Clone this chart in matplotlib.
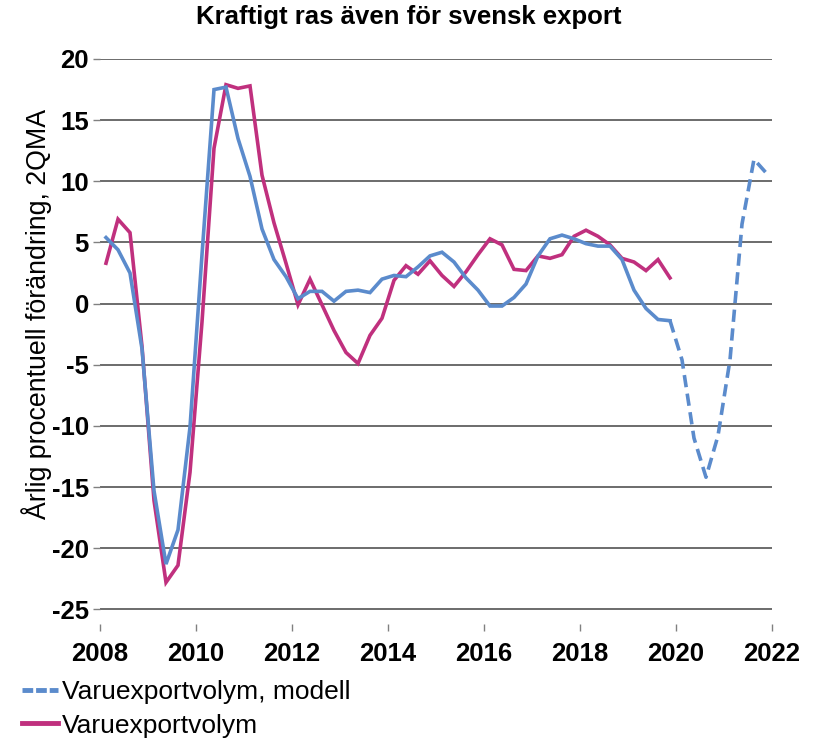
import numpy as np
import matplotlib
matplotlib.use("Agg")
import matplotlib.pyplot as plt
from matplotlib.lines import Line2D

plt.rcParams["font.family"] = ["Liberation Sans", "DejaVu Sans"]

# quarterly data, 2008Q1 onwards
start_year = 2008
model = [5.4, 4.4, 2.5, -3.7,
         -15.3, -21.3, -18.5, -10.1,
         4.0, 17.5, 17.7, 13.5,
         10.4, 6.1, 3.6, 2.2,
         0.4, 1.0, 1.0, 0.2,
         1.0, 1.1, 0.9, 2.0,
         2.3, 2.2, 3.0, 3.9,
         4.2, 3.4, 2.1, 1.1,
         -0.2, -0.2, 0.5, 1.6,
         3.9, 5.3, 5.6, 5.3,
         4.9, 4.7, 4.7, 3.6,
         1.1, -0.4, -1.3, -1.4,
         # forecast (dashed)
         -4.6, -11.0, -14.2, -10.8,
         -4.6, 6.5, 11.8, 10.7]
n_model_actual = 48

export = [3.3, 6.9, 5.8, -3.5,
          -16.1, -22.8, -21.4, -13.8,
          -1.5, 12.7, 17.9, 17.6,
          17.8, 10.5, 6.6, 3.3,
          -0.1, 2.0, -0.1, -2.2,
          -4.0, -4.9, -2.6, -1.2,
          1.9, 3.1, 2.4, 3.5,
          2.3, 1.4, 2.6, 4.0,
          5.3, 4.8, 2.8, 2.7,
          3.9, 3.7, 4.0, 5.5,
          6.0, 5.5, 4.8, 3.7,
          3.4, 2.7, 3.6, 2.1]

yticks = [20, 15, 10, 5, 0, -5, -10, -15, -20, -25]
xticks = [2008, 2010, 2012, 2014, 2016, 2018, 2020, 2022]

blue = "#5B8BCC"
pink = "#C0307E"

t_model = start_year + 0.125 + 0.25 * np.arange(len(model))
t_export = start_year + 0.125 + 0.25 * np.arange(len(export))

fig = plt.figure(figsize=(8.17, 7.38), dpi=100)
ax = fig.add_axes([100 / 817, 1 - 624 / 738, 672 / 817, 565 / 738])

for y in yticks:
    ax.axhline(y, color="#606060", lw=1.3, zorder=1)

ax.plot(t_model[:n_model_actual], model[:n_model_actual], color=blue, lw=2.6,
        zorder=3, solid_joinstyle="miter")
ax.plot(t_model[n_model_actual - 1:], model[n_model_actual - 1:], color=blue,
        lw=2.6, dashes=(3.4, 1.8), zorder=3)
ax.plot(t_export, export, color=pink, lw=2.6, zorder=2, solid_joinstyle="miter")

ax.set_xlim(2008, 2022)
ax.set_ylim(-26.2, 20)
for s in ax.spines.values():
    s.set_visible(False)

ax.set_yticks(yticks)
ax.set_yticklabels([str(v) for v in yticks], fontsize=18.5, fontweight="bold")
ax.set_xticks(xticks)
ax.set_xticklabels([str(v) for v in xticks], fontsize=18.5, fontweight="bold")
ax.tick_params(axis="y", length=5, width=1, color="#808080", pad=3)
ax.tick_params(axis="x", length=5, width=1, color="#808080", pad=8)

ax.set_ylabel("Årlig procentuell förändring, 2QMA", fontsize=19.3)
ax.yaxis.set_label_coords(-0.072, 0.548)
fig.text(0.5, 0.977, "Kraftigt ras även för svensk export", ha="center",
         va="center", fontsize=18.5, fontweight="bold")

handles = [Line2D([], [], color=blue, lw=3.5, dashes=(2.2, 0.6)),
           Line2D([], [], color=pink, lw=3.5)]
fig.legend(handles, ["Varuexportvolym, modell", "Varuexportvolym"],
           loc="upper left", bbox_to_anchor=(0.027, 0.078), frameon=False,
           fontsize=19, handlelength=1.35, handletextpad=0.15,
           labelspacing=0.35, borderaxespad=0, borderpad=0)

fig.savefig("out.png", dpi=100)
